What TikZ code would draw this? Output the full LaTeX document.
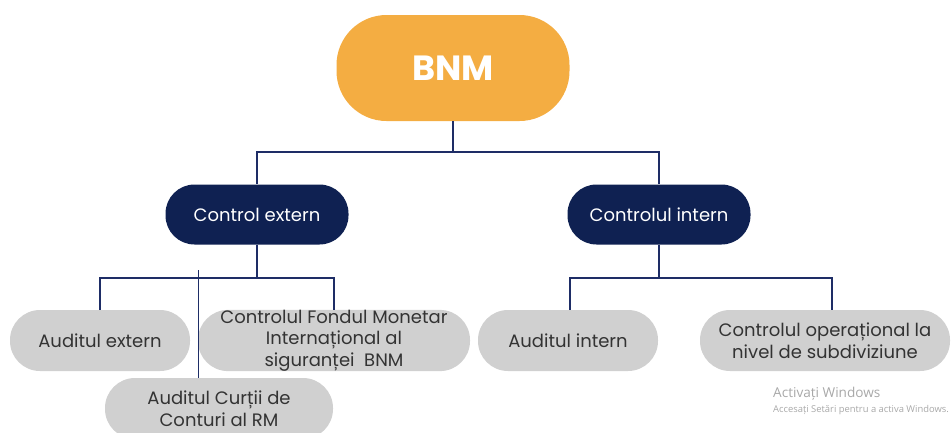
\documentclass[tikz,border=0pt]{standalone}
\usepackage{fontspec}
\setmainfont{Poppins}
\newfontfamily\wmfont{Open Sans}
\definecolor{bnmorange}{HTML}{F4AD42}
\definecolor{navy}{HTML}{0F2152}
\definecolor{linenavy}{HTML}{1E2D66}
\definecolor{pillgray}{HTML}{D0D0D0}
\definecolor{txtgray}{HTML}{333333}
\definecolor{wmgray}{HTML}{A8A8A8}
\begin{document}
\begin{tikzpicture}[x=1pt,y=-1pt,
  pill/.style={rectangle,inner sep=0pt,align=center},
  rootpill/.style={pill,fill=bnmorange,minimum width=233pt,minimum height=106pt,rounded corners=50pt,
     text=white,font=\fontsize{35}{40}\selectfont\bfseries},
  darkpill/.style={pill,fill=navy,minimum width=183pt,minimum height=60pt,rounded corners=29pt,
     text=white,font=\fontsize{18}{22}\selectfont},
  graypill/.style={pill,fill=pillgray,minimum height=61pt,rounded corners=30pt,
     text=txtgray,font=\fontsize{18}{21.5}\selectfont},
  conn/.style={draw=linenavy,line width=2.2pt},
  thinconn/.style={draw=linenavy,line width=0.9pt}]
\useasboundingbox (0,0) rectangle (952,432);

% nodes
\node[rootpill] (bnm) at (453,68) {BNM};
\node[darkpill] (ce) at (257,214.5) {Control extern};
\node[darkpill] (ci) at (659,214.5) {Controlul intern};

\node[graypill,minimum width=180pt] (ae) at (100,340.5) {Auditul extern};
\node[graypill,minimum width=272pt] (cf) at (334,340.5) {Controlul Fondul Monetar\\Internațional al\\siguranței~~BNM};
\node[graypill,minimum width=228pt] (cur) at (219,408.5) {Auditul Curții de\\Conturi al RM};
\node[graypill,minimum width=180pt] (ai) at (568,340.5) {Auditul intern};
\node[graypill,minimum width=250pt] (op) at (825,340.5) {Controlul operațional la\\nivel de subdiviziune};

% bus coordinates
\coordinate (b1) at (453,152);
\coordinate (b2) at (257,278);
\coordinate (b3) at (659,278);
\coordinate (t1) at (198,270);
\coordinate (opt) at (832,310);

% connectors
\draw[conn] (bnm.south) -- (b1) -| (ce.north);
\draw[conn] (b1) -| (ci.north);
\draw[conn] (ce.south) -- (b2) -| (ae.north);
\draw[conn] (b2) -| (cf.north);
\draw[conn] (ci.south) -- (b3) -| ([xshift=2pt]ai.north);
\draw[conn] (b3) -| (opt);
\draw[thinconn] (t1) -- (t1 |- cur.north);

% watermark
\node[anchor=base west,inner sep=0pt,text=wmgray,font=\wmfont\fontsize{13.6}{15}\selectfont] (wm1) at (773,397) {Activați Windows};
\node[anchor=base west,inner sep=0pt,text=wmgray,font=\wmfont\fontsize{9.4}{11}\selectfont] (wm2) at (773,412) {Accesați Setări pentru a activa Windows.};
\end{tikzpicture}
\end{document}
